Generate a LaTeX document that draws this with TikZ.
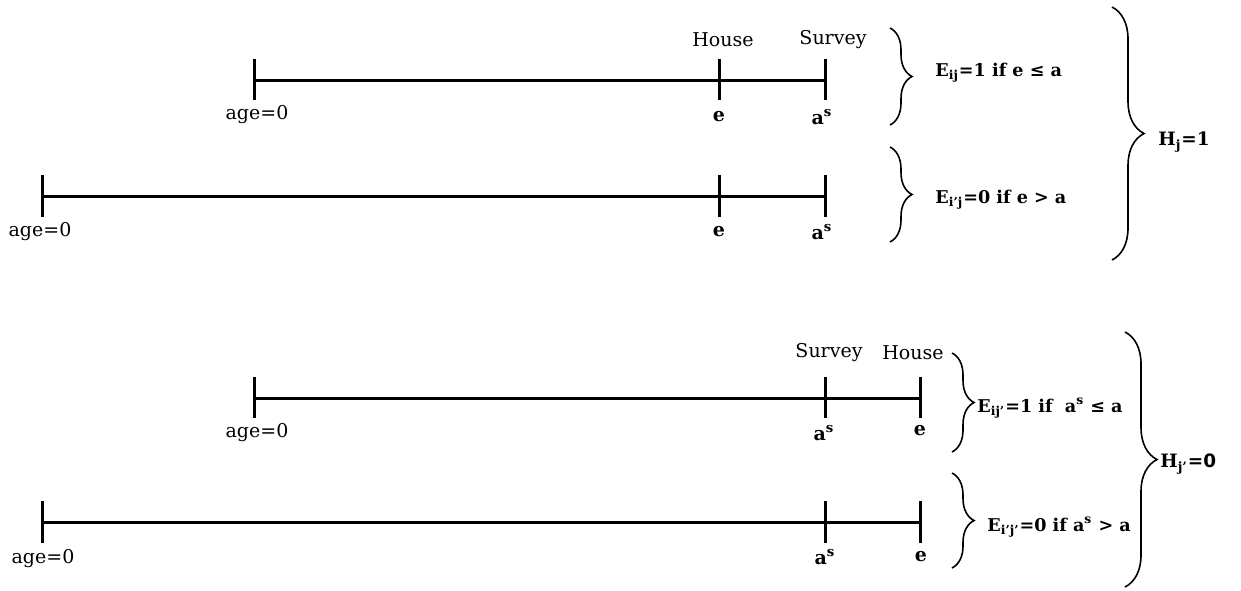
\documentclass[tikz,border=0pt]{standalone}
\usepackage{fontspec}
\setmainfont{DejaVu Serif}
\newfontfamily\sansb{DejaVu Sans}
\usetikzlibrary{decorations.pathreplacing}
\begin{document}
\begin{tikzpicture}[x=0.5pt,y=-0.5pt,
  axis/.style={line width=1.5pt},
  tickmark/.style={line width=1.5pt},
  lbl/.style={inner sep=0pt, font=\fontsize{9.5}{11}\selectfont},
  blbl/.style={inner sep=0pt, font=\fontsize{9.5}{11}\selectfont\bfseries},
  eqlbl/.style={inner sep=0pt, anchor=west, font=\fontsize{8.8}{10}\selectfont\bfseries},
  hlbl/.style={inner sep=0pt, anchor=west, font=\fontsize{9.2}{11}\selectfont\bfseries},
  brc/.style={decorate, decoration={brace, amplitude=#1}, line width=0.8pt},
]
\useasboundingbox (0,0) rectangle (1241,590);
% ---------- Timeline 1 ----------
\coordinate (a1) at (254,80);
\coordinate (h1) at (719,80);
\coordinate (s1) at (825,80);
\draw[axis] (a1) -- (s1);
\foreach \p in {a1,h1,s1} \draw[tickmark] ([yshift=10.5pt]\p) -- ([yshift=-10pt]\p);
\node[lbl] (age1) at (257,115) {age=0};
\node[blbl] (e1) at (719,117) {e};
\node[blbl] (as1) at (822,117) {a\textsuperscript{s}};
\node[lbl] (house1) at (723,40) {House};
\node[lbl] (survey1) at (833,40) {Survey};
% ---------- Timeline 2 ----------
\coordinate (a2) at (42,196);
\coordinate (h2) at (719,196);
\coordinate (s2) at (825,196);
\draw[axis] (a2) -- (s2);
\foreach \p in {a2,h2,s2} \draw[tickmark] ([yshift=10.5pt]\p) -- ([yshift=-10.5pt]\p);
\node[lbl] (age2) at (40,232) {age=0};
\node[blbl] (e2) at (719,232) {e};
\node[blbl] (as2) at (822,232) {a\textsuperscript{s}};
% ---------- Timeline 3 ----------
\coordinate (a3) at (254,398);
\coordinate (s3) at (825,398);
\coordinate (h3) at (920,398);
\draw[axis] (a3) -- (h3);
\foreach \p in {a3,s3,h3} \draw[tickmark] ([yshift=10.5pt]\p) -- ([yshift=-10pt]\p);
\node[lbl] (age3) at (257,433) {age=0};
\node[blbl] (as3) at (824,433) {a\textsuperscript{s}};
\node[blbl] (e3) at (920,431) {e};
\node[lbl] (survey3) at (829,353) {Survey};
\node[lbl] (house3) at (913,353) {House};
% ---------- Timeline 4 ----------
\coordinate (a4) at (42,522);
\coordinate (s4) at (825,522);
\coordinate (h4) at (920,522);
\draw[axis] (a4) -- (h4);
\foreach \p in {a4,s4,h4} \draw[tickmark] ([yshift=10.5pt]\p) -- ([yshift=-10.5pt]\p);
\node[lbl] (age4) at (43,559) {age=0};
\node[blbl] (as4) at (825,557) {a\textsuperscript{s}};
\node[blbl] (e4) at (921,557) {e};
% ---------- Braces top ----------
\coordinate (b1t) at (890,28);  \coordinate (b1b) at (890,125);
\coordinate (b2t) at (890,147); \coordinate (b2b) at (890,242);
\coordinate (B1t) at (1112,7);  \coordinate (B1b) at (1112,260);
\draw[brc=11pt] (b1t) -- (b1b);
\draw[brc=11pt] (b2t) -- (b2b);
\draw[brc=16pt] (B1t) -- (B1b);
\node[eqlbl] (E1) at (935,73) {E\textsubscript{ij}=1 if e ≤ a};
\node[eqlbl] (E2) at (935,200) {E\textsubscript{i’j}=0 if e > a};
\node[hlbl] (H1) at (1158,142) {H\textsubscript{j}=1};
% ---------- Braces bottom ----------
\coordinate (b3t) at (952,353); \coordinate (b3b) at (952,452);
\coordinate (b4t) at (952,473); \coordinate (b4b) at (952,568);
\coordinate (B2t) at (1125,332); \coordinate (B2b) at (1125,587);
\draw[brc=11pt] (b3t) -- (b3b);
\draw[brc=11pt] (b4t) -- (b4b);
\draw[brc=16pt] (B2t) -- (B2b);
\node[eqlbl] (E3) at (977,408) {E\textsubscript{ij’}=1 if~ a\textsuperscript{s} ≤ a};
\node[eqlbl] (E4) at (987,527) {E\textsubscript{i’j’}=0 if a\textsuperscript{s} > a};
\node[hlbl] (H2) at (1160,464) {H\textsubscript{j’}{\sansb=0}};
\end{tikzpicture}
\end{document}
